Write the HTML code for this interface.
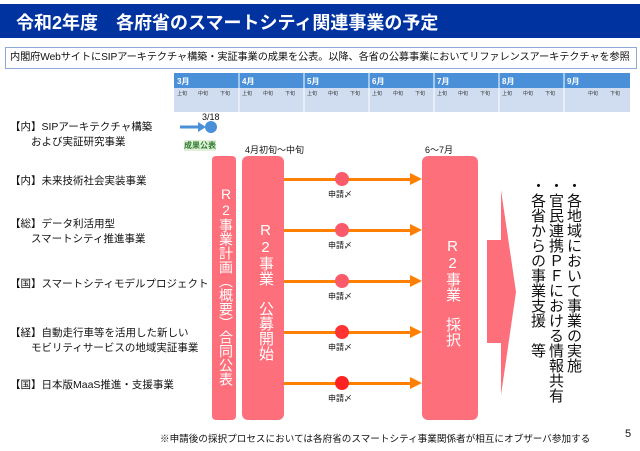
<!DOCTYPE html>
<html><head><meta charset="utf-8"><style>
body{margin:0;width:640px;height:451px;background:#fff;position:relative;overflow:hidden;font-family:"Liberation Sans","Noto Sans CJK JP",sans-serif;color:#111}
.a{position:absolute;white-space:nowrap}
.hdr{left:0;top:4px;width:640px;height:34px;background:#0033a0}
.lab{font-size:10.5px;line-height:15px}
.pk{position:absolute;background:#fd6f7b;border-radius:6px}
.vt{position:absolute;writing-mode:vertical-rl;text-orientation:upright;color:#fff;font-size:15px;white-space:nowrap}
.ar{position:absolute;height:3px;background:#ff7f00}
.hd{position:absolute;width:0;height:0;border-left:12px solid #ff7f00;border-top:6px solid transparent;border-bottom:6px solid transparent}
.dot{position:absolute;width:14px;height:14px;border-radius:50%;background:#fb5a6a}
.sh{position:absolute;font-size:8px}
</style></head><body>
<div class="a hdr"></div>
<div class="a" style="left:16px;top:9px;color:#fff;font-size:18px;font-weight:bold">令和2年度　各府省のスマートシティ関連事業の予定</div>
<div class="a" style="left:5px;top:47px;width:626px;height:20px;border:1px solid #8ea9d8;font-size:10.2px;line-height:20px;padding-left:4px;letter-spacing:-0.1px;overflow:hidden">内閣府WebサイトにSIPアーキテクチャ構築・実証事業の成果を公表。以降、各省の公募事業においてリファレンスアーキテクチャを参照</div>
<div class="a" style="left:174px;top:73px;width:456px;height:15px;background:#4a90d9"></div>
<div class="a" style="left:174px;top:88px;width:456px;height:24px;background:#d0ddf0"></div>
<svg class="a" style="left:0;top:0" width="640" height="451">
<g stroke="#fff" stroke-width="1">
<line x1="239" y1="73" x2="239" y2="112"/><line x1="304" y1="73" x2="304" y2="112"/><line x1="369" y1="73" x2="369" y2="112"/><line x1="434" y1="73" x2="434" y2="112"/><line x1="499" y1="73" x2="499" y2="112"/><line x1="564" y1="73" x2="564" y2="112"/>
</g>
<g fill="#fff" font-size="8" font-weight="bold"><text x="177" y="84">3月</text><text x="242" y="84">4月</text><text x="307" y="84">5月</text><text x="372" y="84">6月</text><text x="437" y="84">7月</text><text x="502" y="84">8月</text><text x="567" y="84">9月</text></g>
<line x1="180" y1="127" x2="200" y2="127" stroke="#4a90d9" stroke-width="3"/>
<polygon points="198,122 206,127 198,132" fill="#4a90d9"/>
<circle cx="211" cy="127" r="6" fill="#4a90d9"/>
<rect x="487" y="240" width="14" height="103" fill="#fd6f7b"/>
<polygon points="501,190 516,292 501,395" fill="#fd6f7b"/>
</svg>
<div class="a" style="left:174px;top:90px;width:456px;font-size:5px;color:#333">
<span style="position:absolute;left:3px">上旬</span><span style="position:absolute;left:24px">中旬</span><span style="position:absolute;left:46px">下旬</span>
<span style="position:absolute;left:68px">上旬</span><span style="position:absolute;left:89px">中旬</span><span style="position:absolute;left:111px">下旬</span>
<span style="position:absolute;left:133px">上旬</span><span style="position:absolute;left:154px">中旬</span><span style="position:absolute;left:176px">下旬</span>
<span style="position:absolute;left:198px">上旬</span><span style="position:absolute;left:219px">中旬</span><span style="position:absolute;left:241px">下旬</span>
<span style="position:absolute;left:263px">上旬</span><span style="position:absolute;left:284px">中旬</span><span style="position:absolute;left:306px">下旬</span>
<span style="position:absolute;left:328px">上旬</span><span style="position:absolute;left:349px">中旬</span><span style="position:absolute;left:371px">下旬</span>
<span style="position:absolute;left:414px">中旬</span><span style="position:absolute;left:436px">下旬</span></div>
<div class="a" style="left:202px;top:112px;font-size:9px">3/18</div>
<div class="a" style="left:184px;top:140px;font-size:8px;font-weight:bold;color:#2e7d32;background:#e2efd9">成果公表</div>
<div class="a" style="left:245px;top:143px;font-size:9px">4月初旬～中旬</div>
<div class="a" style="left:425px;top:143px;font-size:9px">6～7月</div>
<div class="a lab" style="left:10px;top:120px">【内】SIPアーキテクチャ構築<br>　　および実証研究事業</div>
<div class="a lab" style="left:10px;top:174px">【内】未来技術社会実装事業</div>
<div class="a lab" style="left:10px;top:217px">【総】データ利活用型<br>　　スマートシティ推進事業</div>
<div class="a lab" style="left:10px;top:277px">【国】スマートシティモデルプロジェクト</div>
<div class="a lab" style="left:10px;top:326px">【経】自動走行車等を活用した新しい<br>　　モビリティサービスの地域実証事業</div>
<div class="a lab" style="left:10px;top:378px">【国】日本版MaaS推進・支援事業</div>
<div class="pk" style="left:212px;top:156px;width:24px;height:264px;border-radius:4px"></div>
<div class="pk" style="left:242px;top:156px;width:42px;height:264px"></div>
<div class="pk" style="left:422px;top:156px;width:56px;height:264px"></div>
<div class="vt" style="left:216px;top:186px;font-size:14px">R2事業計画（概要）合同公表</div>
<div class="vt" style="left:255px;top:222px;font-size:15px">R2事業　公募開始</div>
<div class="vt" style="left:442px;top:238px;font-size:15px">R2事業　採択</div>
<div class="ar" style="left:284px;top:178px;width:126px"></div><div class="hd" style="left:410px;top:173px"></div><div class="dot" style="left:335px;top:172px"></div><div class="sh" style="left:328px;top:189px">申請〆</div>
<div class="ar" style="left:284px;top:229px;width:126px"></div><div class="hd" style="left:410px;top:224px"></div><div class="dot" style="left:335px;top:223px"></div><div class="sh" style="left:328px;top:240px">申請〆</div>
<div class="ar" style="left:284px;top:280px;width:126px"></div><div class="hd" style="left:410px;top:275px"></div><div class="dot" style="left:335px;top:274px"></div><div class="sh" style="left:328px;top:291px">申請〆</div>
<div class="ar" style="left:284px;top:331px;width:126px"></div><div class="hd" style="left:410px;top:326px"></div><div class="dot" style="left:335px;top:325px;background:#f33"></div><div class="sh" style="left:328px;top:342px">申請〆</div>
<div class="ar" style="left:284px;top:382px;width:126px"></div><div class="hd" style="left:410px;top:377px"></div><div class="dot" style="left:335px;top:376px;background:#f22"></div><div class="sh" style="left:328px;top:393px">申請〆</div>
<div class="a" style="left:528px;top:178px;writing-mode:vertical-rl;text-orientation:upright;font-size:15px;line-height:18px;color:#111">・各地域において事業の実施<br>・官民連携ＰＦにおける情報共有<br>・各省からの事業支援　等</div>
<div class="a" style="left:160px;top:431px;font-size:9.6px">※申請後の採択プロセスにおいては各府省のスマートシティ事業関係者が相互にオブザーバ参加する</div>
<div class="a" style="left:625px;top:428px;font-size:11px">5</div>
</body></html>
